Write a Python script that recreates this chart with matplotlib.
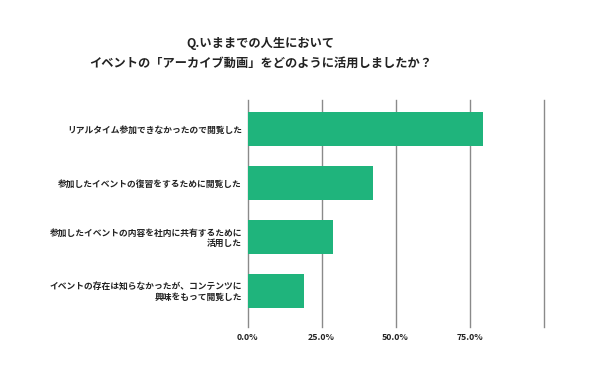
import matplotlib
matplotlib.use('Agg')
import matplotlib.pyplot as plt

plt.rcParams['font.family'] = ['Noto Sans CJK JP', 'DejaVu Sans']

title_lines = ['Q.いままでの人生において', 'イベントの「アーカイブ動画」をどのように活用しましたか？']
categories = [
    'リアルタイム参加できなかったので閲覧した',
    '参加したイベントの復習をするために閲覧した',
    '参加したイベントの内容を社内に共有するために\n活用した',
    'イベントの存在は知らなかったが、コンテンツに\n興味をもって閲覧した',
]
values = [79.6, 42.4, 28.9, 19.1]
xticks = [0, 25, 50, 75, 100]
xtick_labels = ['0.0%', '25.0%', '50.0%', '75.0%', '']

fig = plt.figure(figsize=(5.9, 3.71), dpi=100)
ax = fig.add_axes([0.4195, 0.1186, 0.5017, 0.612])

ypos = list(range(len(categories)))
ax.barh(ypos, values, height=0.64, color='#1fb47c', zorder=3)
ax.set_xlim(0, 100)
ax.set_ylim(3.67, -0.54)

ax.set_xticks(xticks)
ax.set_xticklabels(xtick_labels, fontsize=6.3, fontweight='bold', color='#222222')
ax.set_yticks(ypos)
ax.set_yticklabels(categories, fontsize=6.3, fontweight='bold', color='#222222',
                   multialignment='right', linespacing=1.15)
ax.tick_params(length=0)
ax.tick_params(axis='x', pad=4)
ax.tick_params(axis='y', pad=4)
ax.grid(axis='x', color='#8a8a8a', linewidth=1.0, zorder=1)
for gl in ax.get_xgridlines():
    gl.set_clip_on(False)
for s in ax.spines.values():
    s.set_visible(False)

fig.text(0.442, 0.884, title_lines[0], ha='center', va='center', fontsize=8.8, fontweight='bold', color='#222222')
fig.text(0.442, 0.829, title_lines[1], ha='center', va='center', fontsize=8.8, fontweight='bold', color='#222222')

plt.savefig('out.png', dpi=100)
